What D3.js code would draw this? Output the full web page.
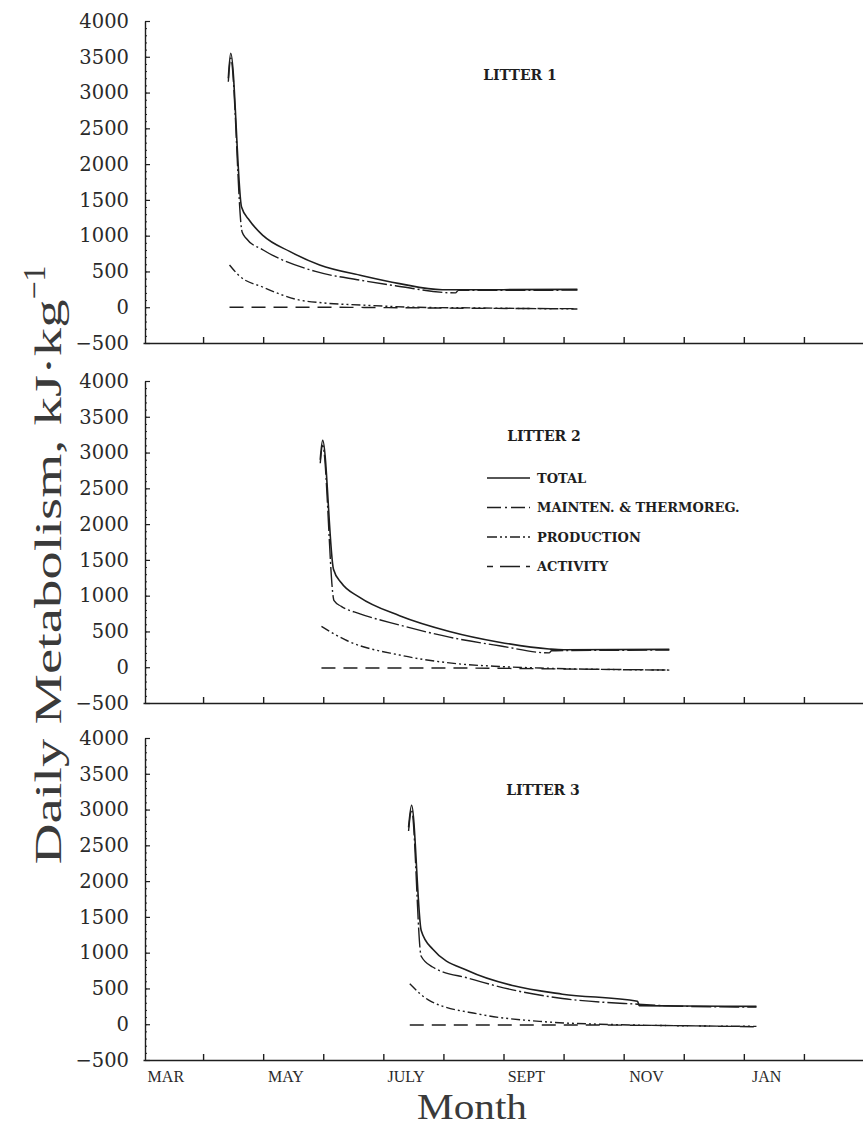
<!DOCTYPE html>
<html lang="en">
<head>
  <meta charset="UTF-8">
  <script src="https://d3js.org/d3.v7.min.js"></script>
  <title>Daily Metabolism</title>
  <style>
    body { margin: 0; background: #fff; }
  </style>
</head>
<body>
  <svg id="chart" width="863" height="1134"></svg>
  <script>
    // month index: 0 = MAR 1, 1 = APR 1, ...
    var monthLabels = ["MAR", "MAY", "JULY", "SEPT", "NOV", "JAN"];
    var monthLabelIdx = [0, 2, 4, 6, 8, 10];
    var yTicks = [-500, 0, 500, 1000, 1500, 2000, 2500, 3000, 3500, 4000];
    var litters = ["LITTER 1", "LITTER 2", "LITTER 3"];
    var seriesNames = ["TOTAL", "MAINTEN. & THERMOREG.", "PRODUCTION", "ACTIVITY"];

    // litter 1
    var l1Total = [[1.42, 3200], [1.46, 3550], [1.64, 1400], [1.77, 1215], [2.0, 1000], [2.44, 780],
                   [2.94, 590], [3.65, 440], [4.27, 330], [4.98, 245], [5.3, 245], [6.0, 245], [7.23, 250]];
    var l1Maint = [[1.42, 3150], [1.46, 3480], [1.65, 1050], [1.72, 960], [2.0, 800], [2.87, 500],
                   [3.6, 380], [4.2, 300], [5.2, 200], [5.25, 235], [6.0, 235], [7.23, 240]];
    var l1Prod = [[1.44, 590], [1.6, 440], [2.0, 280], [2.55, 110], [3.0, 60], [3.65, 30], [4.5, 0],
                  [5.5, -10], [7.23, -25]];
    var l1Act = [[1.44, 0], [3.0, 0], [4.0, -5], [5.5, -15], [7.23, -20]];

    // litter 2
    var l2Total = [[2.95, 2900], [2.99, 3170], [3.17, 1370], [3.3, 1180], [3.6, 980], [4.27, 720],
                   [5.1, 500], [5.93, 350], [6.76, 255], [7.0, 245], [8.76, 250]];
    var l2Maint = [[2.95, 2850], [2.99, 3100], [3.18, 930], [3.3, 850], [3.6, 750], [4.27, 590],
                   [5.1, 420], [5.93, 300], [6.76, 200], [6.8, 230], [8.76, 240]];
    var l2Prod = [[2.97, 570], [3.4, 370], [4.27, 170], [5.1, 60], [5.93, 10], [6.76, -15], [8.76, -40]];
    var l2Act = [[2.97, -10], [5.0, -10], [6.5, -20], [8.76, -40]];

    // litter 3
    var l3Total = [[4.42, 2750], [4.47, 3060], [4.63, 1310], [4.82, 1050], [5.43, 740], [6.15, 540],
                   [6.98, 420], [8.23, 320], [8.26, 260], [9.0, 255], [10.21, 250]];
    var l3Maint = [[4.42, 2700], [4.47, 3000], [4.63, 950], [4.82, 800], [5.43, 640], [6.15, 480],
                   [6.98, 360], [8.23, 280], [9.0, 250], [10.21, 240]];
    var l3Prod = [[4.44, 565], [4.77, 330], [5.6, 140], [6.6, 40], [7.6, 0], [10.21, -30]];
    var l3Act = [[4.44, -10], [7.0, -10], [10.21, -35]];

    var litterData = [
      [l1Total, l1Maint, l1Prod, l1Act],
      [l2Total, l2Maint, l2Prod, l2Act],
      [l3Total, l3Maint, l3Prod, l3Act]
    ];

    // layout
    var svg = d3.select("#chart");
    var ink = "#1e1e1e";
    var axisX = 145;
    var panelTops = [21, 381, 738];
    var panelH = 322;
    var titlePos = [[520, 59], [544, 60], [543, 57]];
    var dashes = [null, "20,3,2,3", "9,3,2,3,2,3", "14,8"];

    var x = d3.scaleLinear().domain([0, 12]).range([143, 864]);

    var line = d3.line()
      .x(function(d) { return x(d[0]); })
      .curve(d3.curveMonotoneX);

    litters.forEach(function(name, i) {
      var top = panelTops[i];
      var y = d3.scaleLinear().domain([-500, 4000]).range([top + panelH, top]);
      var g = svg.append("g");

      // minor ticks on y axis
      g.append("g")
        .attr("transform", "translate(" + axisX + ",0)")
        .call(d3.axisLeft(y).tickValues(d3.range(-500, 4001, 100)).tickSize(-2).tickFormat(""))
        .call(function(a) { a.select(".domain").remove(); a.selectAll("line").attr("stroke", ink); });

      // major y axis
      g.append("g")
        .attr("transform", "translate(" + axisX + ",0)")
        .call(d3.axisLeft(y).tickValues(yTicks).tickSize(-5).tickSizeOuter(0).tickPadding(16)
          .tickFormat(d3.format("d")))
        .call(function(a) {
          a.select(".domain").attr("stroke", ink).attr("stroke-width", 1.4);
          a.selectAll("line").attr("stroke", ink).attr("stroke-width", 1.2);
          a.selectAll("text")
            .attr("fill", "#2a2a2a")
            .style("font-family", "'DejaVu Serif', serif")
            .style("font-size", "19.5px");
        });

      // bottom axis
      g.append("g")
        .attr("transform", "translate(0," + y(-500) + ")")
        .call(d3.axisBottom(x).tickValues(d3.range(1, 12)).tickSize(-6).tickSizeOuter(0).tickFormat(""))
        .call(function(a) {
          a.select(".domain").attr("stroke", ink).attr("stroke-width", 1.4);
          a.selectAll("line").attr("stroke", ink).attr("stroke-width", 1.4);
        });

      // series
      litterData[i].forEach(function(pts, s) {
        g.append("path")
          .datum(pts)
          .attr("d", line.y(function(d) { return y(d[1]); }))
          .attr("fill", "none")
          .attr("stroke", ink)
          .attr("stroke-width", s === 0 ? 1.6 : 1.4)
          .attr("stroke-dasharray", dashes[s]);
      });

      // litter title
      g.append("text")
        .attr("x", titlePos[i][0])
        .attr("y", top + titlePos[i][1])
        .attr("text-anchor", "middle")
        .attr("fill", ink)
        .style("font-family", "'DejaVu Serif', serif")
        .style("font-size", "14px")
        .style("font-weight", "bold")
        .text(name);
    });

    // legend (in litter 2 panel)
    var legend = svg.append("g").attr("transform", "translate(487,478)");
    seriesNames.forEach(function(name, s) {
      var row = legend.append("g").attr("transform", "translate(0," + s * 29.5 + ")");
      row.append("line")
        .attr("x1", 0).attr("x2", 43)
        .attr("stroke", ink)
        .attr("stroke-width", 1.6)
        .attr("stroke-dasharray", s === 1 ? "14,4,2,4" : s === 2 ? "10,3,2,3,2,3" : s === 3 ? "6,7,20" : null);
      row.append("text")
        .attr("x", 50).attr("dy", "0.35em")
        .attr("fill", ink)
        .style("font-family", "'DejaVu Serif', serif")
        .style("font-size", "13px")
        .style("font-weight", "bold")
        .text(name);
    });

    // month labels under bottom panel
    svg.append("g").selectAll("text")
      .data(monthLabels)
      .enter()
      .append("text")
        .attr("x", function(d, i) { return x(monthLabelIdx[i] + 0.38); })
        .attr("y", 1082)
        .attr("text-anchor", "middle")
        .attr("fill", "#2a2a2a")
        .style("font-family", "'Liberation Serif', serif")
        .style("font-size", "16px")
        .text(function(d) { return d; });

    // axis titles
    svg.append("text")
      .attr("x", 472)
      .attr("y", 1119)
      .attr("text-anchor", "middle")
      .attr("fill", "#3a3a3a")
      .style("font-family", "'Liberation Serif', serif")
      .style("font-size", "36px")
      .attr("textLength", 110)
      .attr("lengthAdjust", "spacingAndGlyphs")
      .text("Month");

    var yt = svg.append("text")
      .attr("transform", "translate(61,565) rotate(-90)")
      .attr("text-anchor", "middle")
      .attr("fill", "#3a3a3a")
      .style("font-family", "'Liberation Serif', serif")
      .style("font-size", "38px");
    yt.append("tspan")
      .attr("textLength", 565)
      .attr("lengthAdjust", "spacingAndGlyphs")
      .text("Daily Metabolism, kJ\u00b7kg");
    yt.append("tspan").attr("dy", -16).style("font-size", "32px").text("\u22121");
  </script>
</body>
</html>
